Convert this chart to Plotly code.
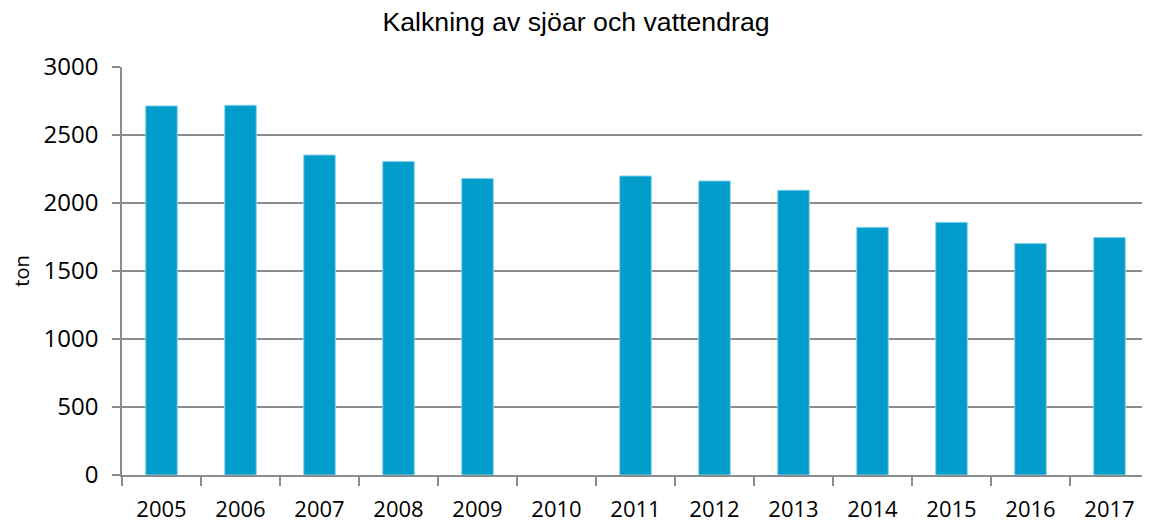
import plotly.graph_objects as go

years = ["2005", "2006", "2007", "2008", "2009", "2010", "2011", "2012", "2013", "2014", "2015", "2016", "2017"]
ton = [2714, 2719, 2353, 2306, 2181, None, 2199, 2162, 2094, 1821, 1858, 1703, 1747]
y_ticks = [0, 500, 1000, 1500, 2000, 2500, 3000]

title_text = "Kalkning av sjöar och vattendrag"
y_title = "ton"

fig = go.Figure()
fig.add_trace(go.Bar(
    x=years, y=ton,
    marker=dict(color="#009DCB", line=dict(color="#8fd3ec", width=1)),
    width=0.4,
))

grid_col = "#8c8c8c"
W, H = 1142, 518
fig.update_layout(
    width=W, height=H,
    margin=dict(l=114, r=1, t=59, b=51),
    paper_bgcolor="white", plot_bgcolor="white",
    showlegend=False,
    title=dict(text=title_text, x=568 / W, xref="container", xanchor="center",
               y=1 - 14 / H, yref="container", yanchor="middle",
               font=dict(family="Liberation Sans, Arial", size=26.7, color="black")),
    font=dict(family="Open Sans", color="black"),
)
fig.update_xaxes(
    type="category", tickson="boundaries", automargin=False,
    showline=True, linecolor=grid_col, linewidth=1.5,
    ticks="outside", ticklen=9, tickwidth=1.5, tickcolor=grid_col,
    showgrid=False, tickfont=dict(size=22, family="Open Sans", color="black"),
    ticklabelstandoff=14,
)
fig.update_yaxes(
    range=[0, 3000], tickvals=y_ticks, automargin=False,
    showline=True, linecolor=grid_col, linewidth=1.5,
    ticks="outside", ticklen=8, tickwidth=1.5, tickcolor=grid_col,
    showgrid=True, gridcolor=grid_col, gridwidth=1.5, zeroline=False,
    tickfont=dict(size=24, family="Open Sans", color="black"),
    ticklabelstandoff=9,
    title=dict(text=y_title, font=dict(size=20, family="Open Sans", color="black"), standoff=13),
)

fig.write_html("out.html")
